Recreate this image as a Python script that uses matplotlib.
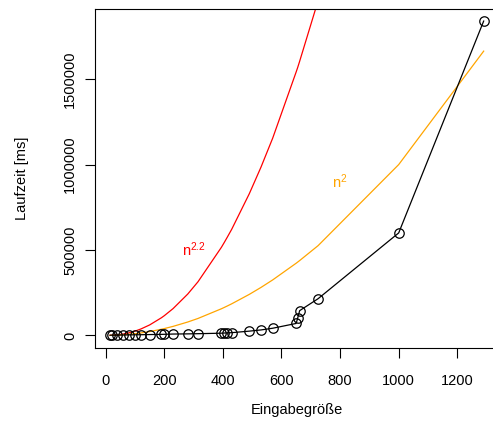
import matplotlib
matplotlib.use("Agg")
import matplotlib.pyplot as plt

plt.rcParams["font.family"] = ["Liberation Sans", "DejaVu Sans"]

# input sizes and measured running time
n = [15, 22, 40, 60, 80, 100, 120, 150, 190, 200, 230, 280, 315, 395, 405,
     415, 430, 490, 530, 570, 650, 655, 662, 725, 1000, 1290]
laufzeit = [1000, 1500, 2000, 2500, 3000, 3500, 4000, 5000, 6000, 6500, 8000,
            9000, 10000, 13000, 14000, 15000, 16000, 25000, 32000, 42000,
            70000, 100000, 145000, 215000, 600000, 1840000]

# reference curves n^2 and n^2.2 at the same sizes
ref_n2 = [225, 484, 1600, 3600, 6400, 10000, 14400, 22500, 36100, 40000,
          52900, 78400, 99225, 156025, 164025, 172225, 184900, 240100, 280900,
          324900, 422500, 429025, 438244, 525625, 1000000, 1664100]
ref_n22 = [387, 898, 3344, 8165, 15380, 25119, 37500, 61300, 103100, 115400,
           157000, 242000, 314000, 516000, 545000, 575000, 621000, 829000,
           985000, 1155000, 1542000, 1567000, 1605000, 1960000, 3981000,
           6967000]

x_ticks = [0, 200, 400, 600, 800, 1000, 1200]
y_ticks = [0, 500000, 1000000, 1500000]

fig = plt.figure(figsize=(4.93, 4.34), dpi=100)
ax = fig.add_axes([0.1921, 0.1982, 0.8193, 0.7822])

ax.plot(n, ref_n22, color="#FF0000", linewidth=0.9)
ax.plot(n, ref_n2, color="#FFA500", linewidth=0.9)
ax.plot(n, laufzeit, color="black", linewidth=0.9, marker="o",
        markersize=6.8, markerfacecolor="none", markeredgecolor="black",
        markeredgewidth=0.9)

ax.text(300, 500000, r"$\mathregular{n^{2.2}}$", color="#FF0000",
        fontsize=10.5, ha="center", va="center")
ax.text(800, 900000, r"$\mathregular{n^{2}}$", color="#FFA500",
        fontsize=10.5, ha="center", va="center")

ax.set_xlim(-37.5, 1341)
ax.set_ylim(-73600, 1913600)
ax.set_xticks(x_ticks)
ax.set_xticklabels([str(t) for t in x_ticks])
ax.set_yticks(y_ticks)
ax.set_yticklabels([str(t) for t in y_ticks], rotation=90, va="center")

ax.tick_params(axis="both", direction="out", length=7.5, width=0.8,
               labelsize=10.5)
ax.tick_params(axis="x", pad=11)
ax.tick_params(axis="y", pad=5)
for s in ax.spines.values():
    s.set_linewidth(0.8)

ax.set_xlabel("Eingabegröße", fontsize=10.5, labelpad=11)
ax.set_ylabel("Laufzeit [ms]", fontsize=10.5, labelpad=25)

fig.savefig("out.png", dpi=100)
